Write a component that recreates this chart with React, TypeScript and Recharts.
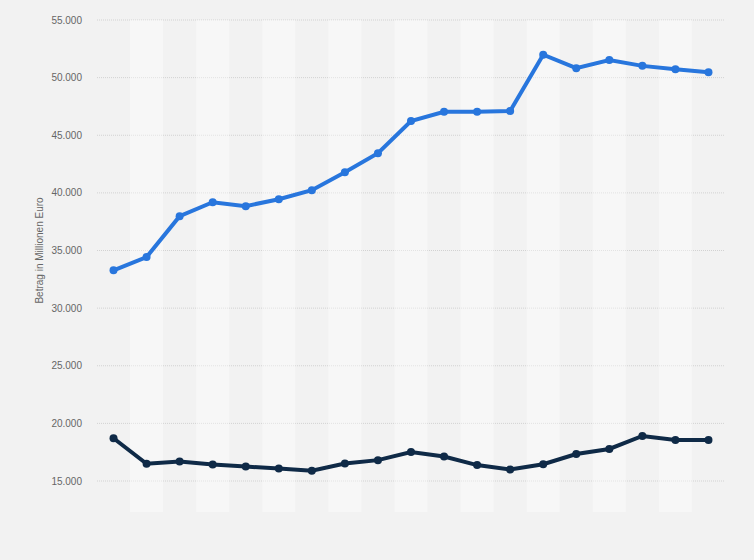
import React from 'react';
import { LineChart, Line, XAxis, YAxis, CartesianGrid, ReferenceArea, Label } from 'recharts';

const years = ['2003','2004','2005','2006','2007','2008','2009','2010','2011','2012','2013','2014','2015','2016','2017','2018','2019','2020','2021'];
const seriesA = [33280, 34430, 37980, 39190, 38850, 39450, 40230, 41790, 43440, 46240, 47030, 47030, 47110, 51990, 50820, 51520, 51020, 50730, 50470];
const seriesB = [18710, 16500, 16700, 16430, 16255, 16080, 15900, 16510, 16810, 17510, 17130, 16380, 15990, 16460, 17340, 17780, 18910, 18560, 18560];
const yTicks = [15000, 20000, 25000, 30000, 35000, 40000, 45000, 50000, 55000];
const yAxisTitle = 'Betrag in Millionen Euro';

const data = years.map((y, i) => ({ year: y, a: seriesA[i], b: seriesB[i] }));

const fmt = (v: number) => String(v).replace(/\B(?=(\d{3})+(?!\d))/g, '.');

const renderYLabel = (props: any) => {
  const vb = props.viewBox || { x: 0, y: 0, width: 0, height: 0 };
  const cx = vb.x + 43;
  const cy = vb.y + vb.height / 2;
  return (
    <text x={cx} y={cy} transform={`rotate(-90, ${cx}, ${cy})`} textAnchor="middle"
      fontSize={10} fill="#666" fontFamily="'Liberation Sans', Arial, sans-serif">
      {yAxisTitle}
    </text>
  );
};

export default function App() {
  return (
    <div style={{ position: 'fixed', left: 0, top: 0, width: 754, height: 560, background: '#f2f2f2' }}>
      <LineChart width={754} height={560} data={data} margin={{ top: 20, right: 29, bottom: 79, left: 0 }}>
        {years.map((y, i) =>
          i % 2 === 1 ? (
            <ReferenceArea key={y} x1={y} x2={y} y1={12300} y2={55000} ifOverflow="visible"
              fill="#ffffff" fillOpacity={0.38} stroke="none" />
          ) : null
        )}
        <CartesianGrid vertical={false} stroke="#d2d2d2" strokeDasharray="1 1" />
        <XAxis dataKey="year" scale="band" hide />
        <YAxis width={97} domain={[15000, 55000]} ticks={yTicks} tickFormatter={fmt}
          axisLine={false} tickLine={false} tickSize={0} tickMargin={15}
          tick={{ fontSize: 10, fill: '#666', fontFamily: "'Liberation Sans', Arial, sans-serif" }}>
          <Label content={renderYLabel} />
        </YAxis>
        <Line dataKey="a" stroke="#2876dd" strokeWidth={4} isAnimationActive={false}
          dot={{ r: 4, fill: '#2876dd', stroke: '#2876dd', strokeWidth: 0 }} activeDot={false} />
        <Line dataKey="b" stroke="#0f2a47" strokeWidth={4} isAnimationActive={false}
          dot={{ r: 4, fill: '#0f2a47', stroke: '#0f2a47', strokeWidth: 0 }} activeDot={false} />
      </LineChart>
    </div>
  );
}
